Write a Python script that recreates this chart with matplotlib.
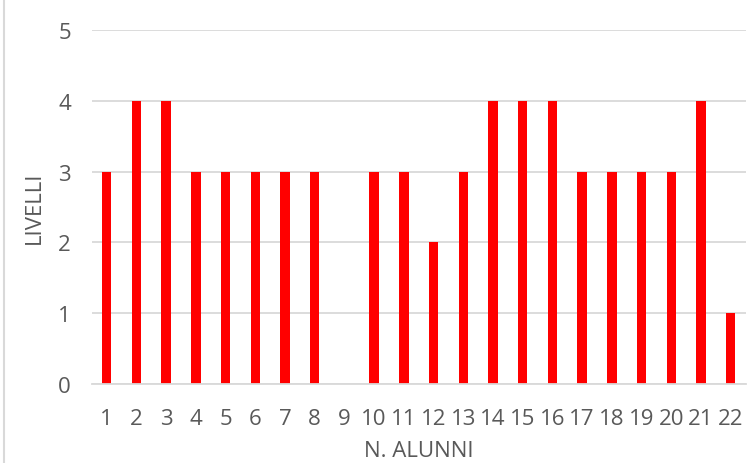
import matplotlib
matplotlib.use("Agg")
import matplotlib.pyplot as plt
from matplotlib.lines import Line2D

alunni = [str(i) for i in range(1, 23)]
livelli = [3, 4, 4, 3, 3, 3, 3, 3, 0, 3, 3, 2, 3, 4, 4, 4, 3, 3, 3, 3, 4, 1]
y_ticks = [0, 1, 2, 3, 4, 5]

plt.rcParams['font.family'] = ['Open Sans', 'DejaVu Sans']
text_col = '#595959'
grid_col = '#d9d9d9'
fsize = 16

fig = plt.figure(figsize=(7.49, 4.64), dpi=100)
ax = fig.add_axes([0.1226, 0.1703, 0.8729, 0.7629])

x = range(len(alunni))
ax.bar(x, livelli, width=0.315, color='#ff0000', zorder=3)

ax.set_xlim(-0.5, len(alunni) - 0.5)
ax.set_ylim(0, 5)
ax.set_yticks(y_ticks)
ax.set_xticks(list(x))
ax.set_xticklabels(alunni)

ax.yaxis.grid(True, color=grid_col, linewidth=1.3, zorder=0)
ax.set_axisbelow(True)
for side in ['top', 'right', 'left']:
    ax.spines[side].set_visible(False)
ax.spines['bottom'].set_color(grid_col)
ax.spines['bottom'].set_linewidth(1.3)
ax.spines['bottom'].set_zorder(4)

ax.tick_params(axis='both', length=0, labelsize=fsize, labelcolor=text_col)
ax.tick_params(axis='x', pad=17)
ax.tick_params(axis='y', pad=15)

ax.set_xlabel('N. ALUNNI', fontsize=fsize, color=text_col, labelpad=8)
ax.set_ylabel('LIVELLI', fontsize=fsize, color=text_col, labelpad=9.5)

# chart frame edge on the left
fig.add_artist(Line2D([0.005, 0.005], [0, 1], transform=fig.transFigure,
                      color=grid_col, linewidth=1.5))

fig.savefig('out.png', dpi=100)
